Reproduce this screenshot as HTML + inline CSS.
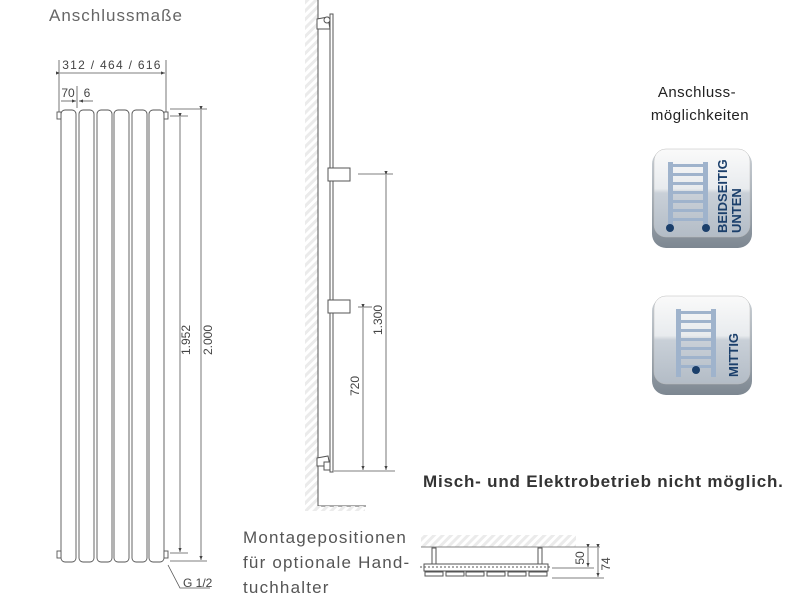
<!DOCTYPE html>
<html><head><meta charset="utf-8"><style>
body{margin:0;background:#fff;width:800px;height:600px;overflow:hidden;font-family:"Liberation Sans",sans-serif}
svg{position:absolute;left:0;top:0}
</style></head><body>
<svg width="800" height="600" viewBox="0 0 800 600" xmlns="http://www.w3.org/2000/svg">
<defs>
<pattern id="h" width="6" height="6" patternUnits="userSpaceOnUse" patternTransform="rotate(45)">
<rect width="3" height="6" fill="#ebebeb"/></pattern>
<marker id="a" markerWidth="6" markerHeight="6" refX="5" refY="3" orient="auto"><path d="M0,1 L5,3 L0,5z" fill="#444"/></marker>
<linearGradient id="ib" x1="0" y1="0" x2="0" y2="1"><stop offset="0" stop-color="#fafafa"/><stop offset="0.45" stop-color="#e8ebee"/><stop offset="0.5" stop-color="#c9d0d8"/><stop offset="1" stop-color="#b3bcc6"/></linearGradient>
<linearGradient id="ie" x1="0" y1="0" x2="0" y2="1"><stop offset="0" stop-color="#cdd3d9"/><stop offset="1" stop-color="#7d8791"/></linearGradient>
</defs>
<g font-family="Liberation Sans, sans-serif" fill="#444">
<text x="49" y="21" font-size="17" fill="#666" letter-spacing="1">Anschlussmaße</text>
<text x="112" y="69" font-size="12" text-anchor="middle" letter-spacing="1.3">312 / 464 / 616</text>
<text x="68" y="97" font-size="12" text-anchor="middle">70</text>
<text x="87" y="97" font-size="12" text-anchor="middle">6</text>
</g>
<g stroke="#555" stroke-width="0.8" fill="none">
<line x1="59" y1="60" x2="59" y2="112"/><line x1="166" y1="60" x2="166" y2="112"/>
<line x1="60" y1="73" x2="165" y2="73" marker-start="url(#a)" marker-end="url(#a)"/>
<line x1="77" y1="86" x2="77" y2="108"/>
<line x1="61" y1="101" x2="76" y2="101" marker-end="url(#a)"/>
<line x1="93" y1="101" x2="79" y2="101" marker-end="url(#a)"/>
<line x1="170" y1="109" x2="207" y2="109"/><line x1="170" y1="116" x2="188" y2="116"/>
<line x1="170" y1="553" x2="188" y2="553"/><line x1="170" y1="561" x2="207" y2="561"/>
<line x1="180" y1="117" x2="180" y2="552" marker-start="url(#a)" marker-end="url(#a)"/>
<line x1="201" y1="110" x2="201" y2="560" marker-start="url(#a)" marker-end="url(#a)"/>
<polyline points="168,565 180,588 210,588"/>
</g>
<g stroke="#555" stroke-width="0.9" fill="#fff">
<rect x="61" y="110" width="15" height="452" rx="4"/>
<rect x="79" y="110" width="15" height="452" rx="4"/>
<rect x="97" y="110" width="15" height="452" rx="4"/>
<rect x="114" y="110" width="15" height="452" rx="4"/>
<rect x="132" y="110" width="15" height="452" rx="4"/>
<rect x="149" y="110" width="15" height="452" rx="4"/>
<rect x="57" y="112" width="4" height="7"/><rect x="164" y="112" width="4" height="7"/>
<rect x="57" y="551" width="4" height="7"/><rect x="164" y="551" width="4" height="7"/>
</g>
<g font-size="12" fill="#444" font-family="Liberation Sans, sans-serif">
<text transform="translate(190,340) rotate(-90)" text-anchor="middle">1.952</text>
<text transform="translate(212,340) rotate(-90)" text-anchor="middle">2.000</text>
<text x="183" y="587">G 1/2</text>
</g>
<!-- side view -->
<rect x="305" y="0" width="13" height="508" fill="url(#h)"/>
<line x1="318" y1="0" x2="318" y2="506" stroke="#555"/>
<line x1="318" y1="506" x2="366" y2="506" stroke="#555"/>
<rect x="305" y="506" width="60" height="5" fill="url(#h)"/>
<rect x="330" y="14" width="3" height="458" fill="#fff" stroke="#555"/>
<path d="M317,19 L328,17 L330,29 L317,29z" fill="#fff" stroke="#555"/>
<circle cx="327" cy="20" r="3" fill="#fff" stroke="#555"/>
<path d="M317,458 L328,456 L330,466 L317,466z" fill="#fff" stroke="#555"/>
<rect x="324" y="462" width="6" height="8" fill="#fff" stroke="#555"/>
<rect x="328" y="168" width="22" height="13" fill="#fff" stroke="#555"/>
<rect x="328" y="300" width="22" height="13" fill="#fff" stroke="#555"/>
<g stroke="#555" stroke-width="0.8" fill="none">
<line x1="358" y1="174" x2="393" y2="174"/><line x1="358" y1="307" x2="372" y2="307"/>
<line x1="334" y1="471" x2="395" y2="471"/>
<line x1="386" y1="175" x2="386" y2="470" marker-start="url(#a)" marker-end="url(#a)"/>
<line x1="363" y1="308" x2="363" y2="470" marker-start="url(#a)" marker-end="url(#a)"/>
</g>
<g font-size="12" fill="#444" font-family="Liberation Sans, sans-serif">
<text transform="translate(382,320) rotate(-90)" text-anchor="middle">1.300</text>
<text transform="translate(359,386) rotate(-90)" text-anchor="middle">720</text>
</g>
<!-- top view -->
<rect x="421" y="535" width="155" height="12" fill="url(#h)"/>
<line x1="421" y1="547" x2="600" y2="547" stroke="#888"/>
<rect x="432" y="548" width="4" height="16" fill="#fff" stroke="#555"/>
<rect x="538" y="548" width="4" height="16" fill="#fff" stroke="#555"/>
<rect x="424" y="564" width="124" height="7" fill="#fff" stroke="#555"/>
<line x1="420" y1="567" x2="552" y2="567" stroke="#555" stroke-dasharray="2,2"/>
<g fill="#fff" stroke="#555"><rect x="425" y="572" width="18" height="4"/><rect x="446" y="572" width="18" height="4"/><rect x="466" y="572" width="18" height="4"/><rect x="487" y="572" width="18" height="4"/><rect x="508" y="572" width="18" height="4"/><rect x="529" y="572" width="18" height="4"/></g>
<g stroke="#555" stroke-width="0.8"><line x1="552" y1="568" x2="594" y2="568"/><line x1="552" y1="578" x2="604" y2="578"/>
<line x1="588" y1="548" x2="588" y2="567" marker-start="url(#a)" marker-end="url(#a)"/>
<line x1="598" y1="548" x2="598" y2="577" marker-start="url(#a)" marker-end="url(#a)"/></g>
<g font-size="12" fill="#444" font-family="Liberation Sans, sans-serif">
<text transform="translate(584,558) rotate(-90)" text-anchor="middle">50</text>
<text transform="translate(610,564) rotate(-90)" text-anchor="middle">74</text>
</g>
<g font-family="Liberation Sans, sans-serif" font-size="17" fill="#555" letter-spacing="1.2">
<text x="243" y="543">Montagepositionen</text>
<text x="243" y="568">für optionale Hand-</text>
<text x="243" y="593">tuchhalter</text>
</g>
<text x="423" y="487" font-family="Liberation Sans, sans-serif" font-size="17" font-weight="bold" fill="#333" letter-spacing="0.8">Misch- und Elektrobetrieb nicht möglich.</text>
<g font-family="Liberation Sans, sans-serif" font-size="15" fill="#222" text-anchor="middle" letter-spacing="0.5">
<text x="697" y="97">Anschluss-</text><text x="700" y="120">möglichkeiten</text>
</g>
<!-- icon 1 -->
<rect x="652" y="150" width="100" height="98" rx="14" fill="url(#ie)"/>
<rect x="654" y="149" width="96" height="88" rx="12" fill="url(#ib)" stroke="#bbb" stroke-width="0.5"/>
<g fill="#9fb3cc"><rect x="668" y="162" width="5" height="68"/><rect x="703" y="162" width="5" height="68"/>
<rect x="673" y="164" width="30" height="3"/><rect x="673" y="173" width="30" height="3"/><rect x="673" y="182" width="30" height="3"/><rect x="673" y="191" width="30" height="3"/><rect x="673" y="200" width="30" height="3"/><rect x="673" y="209" width="30" height="3"/><rect x="673" y="218" width="30" height="3"/></g>
<circle cx="670" cy="228" r="4" fill="#1b3f6b"/><circle cx="706" cy="228" r="4" fill="#1b3f6b"/>
<g font-family="Liberation Sans, sans-serif" font-size="13" font-weight="bold" fill="#1b3f6b">
<text transform="translate(727,233) rotate(-90)">BEIDSEITIG</text>
<text transform="translate(741,233) rotate(-90)">UNTEN</text></g>
<!-- icon 2 -->
<rect x="652" y="297" width="100" height="98" rx="14" fill="url(#ie)"/>
<rect x="654" y="296" width="96" height="88" rx="12" fill="url(#ib)" stroke="#bbb" stroke-width="0.5"/>
<g fill="#9fb3cc"><rect x="676" y="309" width="5" height="68"/><rect x="711" y="309" width="5" height="68"/>
<rect x="681" y="311" width="30" height="3"/><rect x="681" y="320" width="30" height="3"/><rect x="681" y="329" width="30" height="3"/><rect x="681" y="338" width="30" height="3"/><rect x="681" y="347" width="30" height="3"/><rect x="681" y="356" width="30" height="3"/><rect x="681" y="365" width="30" height="3"/></g>
<circle cx="696" cy="370" r="4" fill="#1b3f6b"/>
<text transform="translate(738,377) rotate(-90)" font-family="Liberation Sans, sans-serif" font-size="13" font-weight="bold" fill="#1b3f6b">MITTIG</text>
</svg>
</body></html>
